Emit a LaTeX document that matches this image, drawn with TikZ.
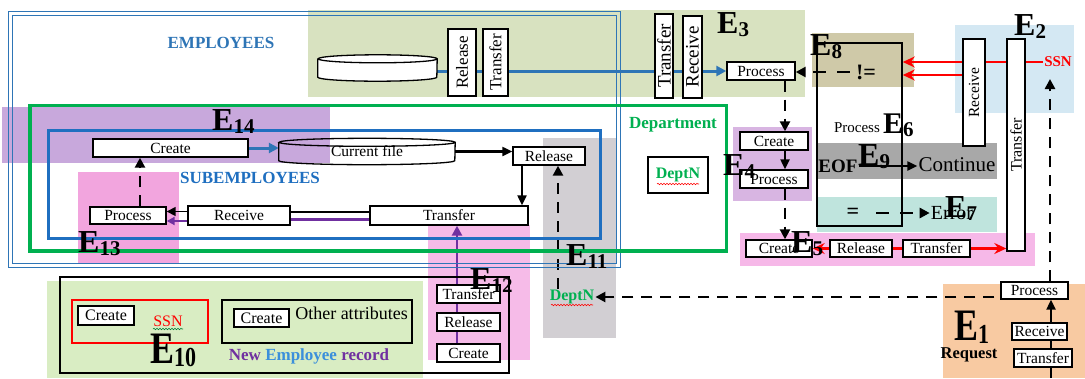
\documentclass[tikz,border=0pt]{standalone}
\usepackage{fontspec}
\setmainfont{Liberation Serif}
\usepackage{graphicx}
\usetikzlibrary{arrows.meta,calc,decorations.pathmorphing}

\definecolor{empblue}{HTML}{2E75B6}
\definecolor{subblue}{HTML}{1F6FC0}
\definecolor{deptgreen}{HTML}{00B050}
\definecolor{purp}{HTML}{7030A0}
\definecolor{empword}{HTML}{3B8FDB}
\definecolor{zE3}{HTML}{D8E2C0}
\definecolor{zE8}{HTML}{CFC9A8}
\definecolor{zE2}{HTML}{D4E8F3}
\definecolor{zE14}{HTML}{C8A8DC}
\definecolor{zE13}{HTML}{F2A5DE}
\definecolor{zE12}{HTML}{F6BBE8}
\definecolor{zE11}{HTML}{D2CFD3}
\definecolor{zE4}{HTML}{D8B5E2}
\definecolor{zE9}{HTML}{A8A8A8}
\definecolor{zE7}{HTML}{BFE4DD}
\definecolor{zE5}{HTML}{F6B8E8}
\definecolor{zE1}{HTML}{F8CAA2}
\definecolor{zE10}{HTML}{D9EDC3}

\newcommand{\sz}[1]{\fontsize{#1}{#1}\selectfont}
\newcommand{\Elab}[3]{{\bfseries\sz{#1}E\raisebox{-3pt}{\sz{#2}#3}}}

\pgfdeclarelayer{zones}
\pgfdeclarelayer{links}
\pgfsetlayers{zones,links,main}

\begin{document}
\begin{tikzpicture}[x=1pt,y=-1pt,
  box/.style={draw, line width=1.4pt, fill=white, inner sep=0pt, font=\sz{15.5}},
  vbox/.style={box, rotate=90},
  wh/.style 2 args={minimum width=#1pt, minimum height=#2pt},
  txt/.style={inner sep=1pt},
  lbl/.style={anchor=base west, inner sep=0pt},
  frame/.style={draw, line width=1.5pt, inner sep=0pt},
  blk/.style={line width=2.2pt, -{Triangle[length=10pt,width=9pt]}},
  dsh/.style={line width=2.6pt, dash pattern=on 11pt off 8pt, -{Triangle[length=10pt,width=10pt]}},
  redln/.style={red, line width=2.2pt},
  redar/.style={redln, -{Stealth[length=12pt,width=11pt,inset=4pt]}},
  bluar/.style={empblue, line width=3pt, -{Triangle[length=10pt,width=10pt]}},
  purln/.style={purp, line width=2.6pt},
  squig/.style={decorate, decoration={snake, amplitude=0.7pt, segment length=3pt}, line width=0.6pt}]

\useasboundingbox (0,0) rectangle (1085,378);

% ---------- shaded event zones ----------
\begin{pgfonlayer}{zones}
  \fill[white] (0,0) rectangle (1085,378);
  \fill[zE3]  (308,10)  rectangle (805,97);
  \fill[zE8]  (812,33)  rectangle (914,87);
  \fill[zE2]  (955,25)  rectangle (1074,113);
  \fill[zE14] (2,107)   rectangle (330,163);
  \fill[zE13] (78,172)  rectangle (179,264);
  \fill[zE12] (428,225) rectangle (530,360);
  \fill[zE11] (543,138) rectangle (616,338);
  \fill[zE4]  (733,127) rectangle (812,201);
  \fill[zE9]  (817,143) rectangle (997,179);
  \fill[zE7]  (817,197) rectangle (997,232);
  \fill[zE5]  (740,233) rectangle (1035,266);
  \fill[zE1]  (943,284) rectangle (1085,378);
  \fill[zE10] (47,281)  rectangle (423,378);
\end{pgfonlayer}

% ---------- entity frames ----------
\draw[empblue, line width=1.6pt] (8.5,11.5) rectangle (620.5,267.5);
\draw[empblue, line width=1.6pt] (12.5,15.5) rectangle (616.5,263.5);
\draw[deptgreen, line width=3.5pt] (30,105.5) rectangle (726.5,251);
\draw[subblue, line width=3pt] (48.5,130) rectangle (600,238.5);

\node[txt, font=\bfseries\sz{17}, text=empblue] (empT) at (221,43) {EMPLOYEES};
\node[txt, font=\bfseries\sz{17}, text=subblue] (subT) at (250,178) {SUBEMPLOYEES};
\node[txt, font=\bfseries\sz{17}, text=deptgreen] (depT) at (673,125) {Department};
\node[box, wh={60}{36}, font=\bfseries\sz{16}, text=deptgreen] (dnbox) at (678,175) {DeptN};
\draw[squig, red] ($(dnbox.center)+(-21,9)$) -- ($(dnbox.center)+(21,9)$);

% ---------- employee file, top row ----------
\node[wh={119}{18}, inner sep=0pt] (drumA) at (377.5,68) {};
\filldraw[fill=white, line width=1.3pt] (drumA.north west) -- (drumA.south west)
  arc[start angle=180, end angle=360, x radius=59.5pt, y radius=4pt] -- (drumA.north east)
  arc[start angle=0, end angle=360, x radius=59.5pt, y radius=4pt];
\node[vbox, wh={67}{28}, font=\sz{17}] (relA) at (462,62.5) {Release};
\node[vbox, wh={67}{25}, font=\sz{17}] (trA) at (495.5,62.5) {Transfer};
\node[vbox, wh={84}{18}, font=\sz{19}] (trB) at (664,56) {Transfer};
\node[vbox, wh={82}{19}, font=\sz{19}] (rcB) at (692.5,57) {Receive};
\node[box, wh={68}{18}] (p3) at (761,71) {Process};

% ---------- subemployees ----------
\node[box, wh={155}{18}] (cr14) at (170.5,148) {Create};
\node[wh={176}{18}, inner sep=0pt, font=\sz{15.5}] (curf) at (367,151.5) {Current file};
\draw[line width=1.3pt] (curf.north west) -- (curf.south west)
  arc[start angle=180, end angle=360, x radius=88pt, y radius=4pt] -- (curf.north east)
  arc[start angle=0, end angle=360, x radius=88pt, y radius=4pt];
\node[box, wh={72}{18}] (relS) at (549,156) {Release};
\node[box, wh={158}{19}] (trS) at (449,215.5) {Transfer};
\node[box, wh={102}{19}] (rvS) at (239,215.5) {Receive};
\node[box, wh={76}{17}] (prS) at (128,215.5) {Process};

% ---------- new employee record ----------
\node[frame, wh={449}{96}] (nerec) at (284.5,325) {};
\node[frame, draw=red, wh={136}{43}] (ssnbox) at (140,321.5) {};
\node[frame, wh={190}{43}] (othbox) at (317,321.5) {};
\node[box, wh={56}{19}, font=\sz{16}] (c10a) at (106,315.5) {Create};
\node[txt, font=\sz{16}, text=red] (ssn10) at (168,321) {SSN};
\draw[squig, deptgreen!70!black] ($(ssn10.center)+(-15,8)$) -- ($(ssn10.center)+(15,8)$);
\node[box, wh={55}{18}, font=\sz{16}] (c10b) at (261.5,318) {Create};
\node[txt, font=\sz{18}] (othT) at (351.5,313) {Other attributes};
\node[txt, font=\bfseries\sz{17}] (nerT) at (309,356)
  {\textcolor{purp}{New} \textcolor{empword}{Employee} \textcolor{purp}{record}};

\node[box, wh={63}{18}] (tr12) at (468.5,294) {Transfer};
\node[box, wh={63}{18}] (rl12) at (468.5,322) {Release};
\node[box, wh={63}{18}] (cr12) at (468.5,353) {Create};

\node[txt, font=\bfseries\sz{16}, text=deptgreen] (dn11) at (572,297) {DeptN};
\draw[squig, red] ($(dn11.center)+(-21,8)$) -- ($(dn11.center)+(21,8)$);

% ---------- right part ----------
\node[frame, wh={85}{183}] (e6) at (859.5,134.5) {};
\node[txt, font=\sz{15}] (e6p) at (857,128) {Process};
\node[txt, font=\bfseries\sz{22}] (neq) at (866,72) {!=};
\node[txt, font=\bfseries\sz{19}] (eof) at (838,166) {EOF};
\node[txt, font=\sz{21}] (cont) at (957,165) {Continue};
\node[txt, font=\bfseries\sz{22}] (eqs) at (853,213) {=};
\node[txt, font=\sz{20}] (err) at (952,213) {Error};

\node[txt, font=\bfseries\sz{15}, text=red] (ssn) at (1058,62) {SSN};
\node[vbox, wh={107}{22}, font=\sz{15.5}] (rcE2) at (974,92.5) {Receive};
\node[vbox, wh={212}{18}, font=\sz{16}] (trE2) at (1016,145) {Transfer};

\node[box, wh={68}{18}] (c4) at (774,141) {Create};
\node[box, wh={68}{18}] (pr4) at (774,179) {Process};
\node[box, wh={66}{17}] (c5) at (779,248.5) {Create};
\node[box, wh={62}{17}] (rel5) at (861,248.5) {Release};
\node[box, wh={67}{17}] (tr5) at (936.5,248.5) {Transfer};

\node[box, wh={67}{17}] (p1) at (1034.5,290.5) {Process};
\node[box, wh={55}{17}] (rc1) at (1039.5,331.5) {Receive};
\node[box, wh={58}{18}] (tr1) at (1043,358) {Transfer};
\node[txt, font=\bfseries\sz{16.5}] (req) at (969,355) {Request};

% ---------- connectors ----------
\coordinate (colx) at (785,0);
\coordinate (pux) at (457,0);
\coordinate (e1foot) at (1051,378);
\coordinate (ssnfoot) at (1050,79);

\begin{pgfonlayer}{links}
  \draw[bluar] (drumA.east |- p3) -- (p3.west);
  \draw[bluar] (cr14.east) -- (cr14.east -| curf.west);
  \draw[blk] (curf.east) -- (curf.east -| relS.west);
  \draw[blk] ([xshift=-27pt]relS.south) -- ([xshift=-27pt]relS.south |- trS.north);
  \draw[line width=1.6pt] ($(trS.west)+(0,-3.5)$) coordinate (bk1) -- (bk1 -| rvS.east);
  \draw[line width=1.6pt, -{Triangle[length=9pt,width=9pt]}]
    ($(rvS.west)+(0,-4)$) coordinate (bk2) -- (bk2 -| prS.east);
  \draw[purln] ($(trS.west)+(0,4)$) coordinate (pp1) -- (pp1 -| rvS.east);
  \draw[purln, -{Triangle[length=8pt,width=8pt]}]
    ($(rvS.west)+(0,5.5)$) coordinate (pp2) -- (pp2 -| prS.east);
  \draw[dsh] ([xshift=12pt]prS.north) -- ([xshift=12pt]prS.north |- cr14.south);
  \draw[purln, -{Triangle[length=10pt,width=10pt]}] (cr12.north -| pux) -- (trS.south -| pux);
  \draw[dsh] ([xshift=-14pt]dn11.north) -- ([xshift=-14pt]dn11.north |- relS.south);
  \draw[dsh, shorten <=6pt] (p1.west |- dn11) -- (dn11.east);

  \draw[dsh, dash pattern=on 13pt off 11pt, shorten <=5pt] (neq.west) -- (neq.west -| p3.east);
  \draw[dsh] (p3.south -| colx) -- (c4.north -| colx);
  \draw[blk] (c4.south -| colx) -- (pr4.north -| colx);
  \draw[dsh] (pr4.south -| colx) -- (c5.north -| colx);
  \draw[blk] (eof.east) -- (eof.east -| cont.west);
  \draw[dsh, dash pattern=on 13pt off 11pt, shorten <=16pt] (eqs.east) -- (eqs.east -| err.west);

  \draw[redar] (ssn.west) -- (ssn.west -| e6.east);
  \draw[redar] ($(rcE2.center)+(0,-17.5)$) coordinate (rl) -- (rl -| e6.east);
  \draw[redar] (rel5) -- (c5);
  \draw[redln] (tr5) -- (rel5);
  \draw[redar] (tr5.east) -- (tr5.east -| trE2.north);

  \draw[blk] (e1foot) -- (e1foot |- p1.south);
  \draw[dsh] (p1.north -| ssnfoot) -- (ssnfoot);
\end{pgfonlayer}

% ---------- event labels ----------
\node[lbl] (lE1)  at (954,340) {\scalebox{1}[1.25]{\Elab{36}{22}{1}}};
\node[lbl] (lE10) at (150,363) {\scalebox{1}[1.25]{\Elab{36}{22}{10}}};
\node[lbl] (lE2)  at (1014,35) {\Elab{32}{21}{2}};
\node[lbl] (lE3)  at (717,33)  {\Elab{32}{21}{3}};
\node[lbl] (lE4)  at (723,175) {\Elab{32}{21}{4}};
\node[lbl] (lE5)  at (791,252) {\Elab{32}{21}{5}};
\node[lbl] (lE6)  at (883,133) {\Elab{30}{21}{6}};
\node[lbl] (lE7)  at (945,217) {\Elab{32}{21}{7}};
\node[lbl] (lE8)  at (810,55)  {\Elab{32}{21}{8}};
\node[lbl] (lE9)  at (858,165) {\Elab{32}{21}{9}};
\node[lbl] (lE11) at (566,265) {\Elab{32}{21}{11}};
\node[lbl] (lE12) at (470,289) {\Elab{32}{21}{12}};
\node[lbl] (lE13) at (78,252)  {\Elab{32}{21}{13}};
\node[lbl] (lE14) at (212,130) {\Elab{32}{21}{14}};
\end{tikzpicture}
\end{document}
